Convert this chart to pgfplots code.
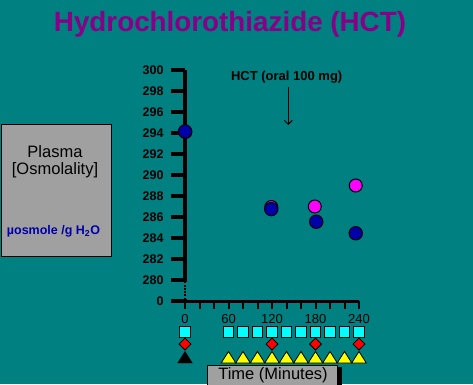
\documentclass[border=0pt]{standalone}
\usepackage{pgfplots}
\pgfplotsset{compat=1.18}
\usetikzlibrary{arrows.meta}
\usepackage{fontspec}
\setmainfont{Liberation Sans}
\definecolor{bg}{HTML}{008080}
\definecolor{ttl}{HTML}{880088}
\definecolor{dotblue}{HTML}{0000A8}
\definecolor{boxgray}{HTML}{A0A0A0}
\definecolor{magen}{HTML}{FF00FF}
\definecolor{cyansq}{HTML}{00FFFF}
\definecolor{yellowtri}{HTML}{FFFF00}
\definecolor{reddia}{HTML}{FF0000}
\begin{document}
\begin{tikzpicture}[x=1pt,y=1pt]
\fill[bg] (0,0) rectangle (473,384);
\useasboundingbox (0,0) rectangle (473,384);
\node[text=ttl, font=\fontsize{27.8}{30}\selectfont\bfseries, anchor=base, inner sep=0] at (230,352.3) {Hydrochlorothiazide (HCT)};
\draw[fill=boxgray, draw=black, line width=1pt] (1.5,128) rectangle (111,260);
\node[font=\fontsize{16.5}{18}\selectfont] at (55,232.3) {Plasma};
\node[font=\fontsize{16.5}{18}\selectfont] at (55,214) {[Osmolality]};
\node[font=\fontsize{12.5}{14}\selectfont\bfseries, text=dotblue] at (53.5,152.3) {µosmole /g H\textsubscript{2}O};
\fill[black] (337,-1) rectangle (342,17);
\draw[fill=boxgray, draw=black, line width=1pt] (207.5,-1) rectangle (337,19);
\node[font=\fontsize{16.5}{18}\selectfont] at (273,9) {Time (Minutes)};

\begin{axis}[
  at={(185pt,83pt)}, anchor=south west, scale only axis,
  width=174pt, height=231pt,
  xmin=0, xmax=240, ymin=278, ymax=300,
  axis x line=none, axis y line=left,
  axis line style={-, line width=3.5pt, black},
  xtick=\empty,
  ytick={278,280,...,300},
  yticklabels={0,280,282,284,286,288,290,292,294,296,298,300},
  tick align=outside, major tick length=14pt,
  ytick style={line width=3.5pt, black},
  yticklabel style={font=\fontsize{12.5}{14}\selectfont\bfseries, anchor=east, xshift=-4pt},
]
\end{axis}

\begin{axis}[
  at={(185pt,83pt)}, anchor=south west, scale only axis,
  width=174pt, height=231pt,
  xmin=0, xmax=240, ymin=278, ymax=300,
  axis y line=none, axis x line=bottom,
  axis line style={-, line width=3pt, black},
  ytick=\empty,
  xtick={0,60,120,180,240}, xticklabels={0,60,120,180,240},
  minor xtick={20,40,80,100,140,160,200,220},
  tick align=outside, major tick length=8pt, minor tick length=8pt,
  xtick style={line width=2pt, black},
  xticklabel style={font=\fontsize{13}{15}\selectfont, anchor=center, yshift=-10.5pt},
  clip=false,
]
\draw[bg, line width=4.5pt] (axis cs:0,278.16) -- (axis cs:0,279.85);
\draw[black, line width=2.2pt, dash pattern=on 1.8pt off 1.4pt] (axis cs:0,278.16) -- (axis cs:0,279.85);

\addplot[only marks, mark=*, mark size=6.5pt, mark options={fill=magen, draw=black, line width=1pt}]
  coordinates {(0.6,294.1) (119,286.95) (179,287.0) (235.5,289.0)};
\addplot[only marks, mark=*, mark size=6.7pt, mark options={fill=dotblue, draw=black, line width=1pt}]
  coordinates {(0,294.15) (119,286.75) (181,285.55) (235.5,284.45)};

\addplot[only marks, mark=square*, mark size=5.3pt, mark options={fill=cyansq, draw=black, line width=0.8pt}]
  coordinates {(0,275.08) (60,275.08) (80,275.08) (100,275.08) (120,275.08) (140,275.08) (160,275.08) (180,275.08) (200,275.08) (220,275.08) (240,275.08)};
\addplot[only marks, mark=square*, mark size=4.2pt, mark options={rotate=45, fill=reddia, draw=black, line width=0.8pt}]
  coordinates {(0,273.9) (120,273.9) (180,273.9) (240,273.9)};
\addplot[only marks, mark=triangle*, mark size=7.7pt, mark options={xscale=1.1, fill=black, draw=black}]
  coordinates {(0,272.46)};
\addplot[only marks, mark=triangle*, mark size=7.7pt, mark options={xscale=1.1, fill=yellowtri, draw=black, line width=0.8pt}]
  coordinates {(60,272.46) (80,272.46) (100,272.46) (120,272.46) (140,272.46) (160,272.46) (180,272.46) (200,272.46) (220,272.46) (240,272.46)};

\node[font=\fontsize{13}{15}\selectfont\bfseries] at (axis cs:140.3,299.36) {HCT (oral 100 mg)};
\draw[-{Straight Barb[length=4pt,width=8pt]}, line width=1pt] (axis cs:142.5,298.4) -- (axis cs:142.5,294.76);
\end{axis}
\end{tikzpicture}
\end{document}
